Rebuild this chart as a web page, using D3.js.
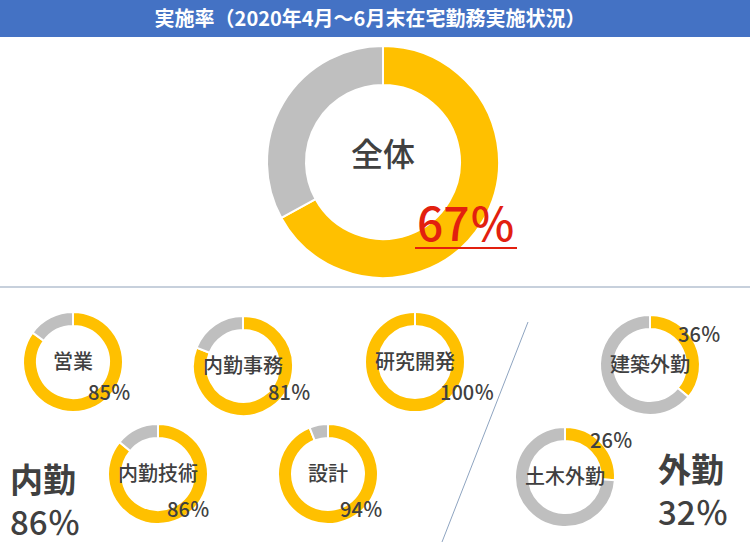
<!DOCTYPE html>
<html>
<head>
<meta charset="utf-8">
<script src="https://cdn.jsdelivr.net/npm/d3@7"></script>
<style>
  body { margin: 0; background: #fff; }
  text { font-family: "Noto Sans CJK JP", "Noto Sans", sans-serif; }
</style>
</head>
<body>
<script>
// values
var titleText = "実施率（2020年4月～6月末在宅勤務実施状況）";
var totalName = "全体";
var totalValue = 67;
var groupNames = ["内勤", "外勤"];
var groupValues = [86, 32];
var deptNames = ["営業", "内勤事務", "研究開発", "内勤技術", "設計", "建築外勤", "土木外勤"];
var deptValues = [85, 81, 100, 86, 94, 36, 26];

// where each small donut sits, and where its % label goes
var deptLayout = [
  {cx: 73,  cy: 362, dx: 15, dy: 38},
  {cx: 243, cy: 366, dx: 25, dy: 34},
  {cx: 415, cy: 362, dx: 25, dy: 38},
  {cx: 158, cy: 474, dx: 9,  dy: 43},
  {cx: 328, cy: 474, dx: 12, dy: 43},
  {cx: 650, cy: 365, dx: 28, dy: -23},
  {cx: 565, cy: 477, dx: 25, dy: -29}
];

var W = 750, H = 550;
var yellow = "#FFC000", grey = "#BFBFBF", ink = "#404040";

var svg = d3.select("body").append("svg")
  .attr("width", W)
  .attr("height", H);

// header bar
svg.append("rect")
  .attr("x", 0).attr("y", 0)
  .attr("width", W).attr("height", 37)
  .attr("fill", "#4472C4");
svg.append("text")
  .attr("x", 370).attr("y", 26)
  .attr("text-anchor", "middle")
  .attr("fill", "#fff")
  .attr("font-size", 20)
  .attr("font-weight", "bold")
  .text(titleText);

var pie = d3.pie().sort(null).value(function(d) { return d; });

function donut(g, value, rIn, rOut) {
  var arc = d3.arc().innerRadius(rIn).outerRadius(rOut);
  g.selectAll("path")
    .data(pie([value, 100 - value]))
    .enter().append("path")
      .attr("d", arc)
      .attr("fill", function(d, i) { return i === 0 ? yellow : grey; })
      .attr("stroke", "#fff")
      .attr("stroke-width", 2);
}

// big donut
var big = svg.append("g").attr("transform", "translate(383,162)");
donut(big, totalValue, 77, 116);
big.append("text")
  .attr("y", -7).attr("dy", "0.35em")
  .attr("text-anchor", "middle")
  .attr("fill", ink)
  .attr("font-size", 32)
  .attr("font-weight", 500)
  .text(totalName);
big.append("text")
  .attr("x", 34).attr("y", 79)
  .attr("fill", "#E2200F")
  .attr("font-size", 46)
  .attr("font-weight", 500)
  .text(totalValue + "％");
big.append("line")
  .attr("x1", 32).attr("x2", 134)
  .attr("y1", 86).attr("y2", 86)
  .attr("stroke", "#E2200F")
  .attr("stroke-width", 2);

// separators
svg.append("line")
  .attr("x1", 0).attr("x2", W)
  .attr("y1", 287).attr("y2", 287)
  .attr("stroke", "#B4C0D0")
  .attr("stroke-width", 1.5);
svg.append("line")
  .attr("x1", 528).attr("y1", 322)
  .attr("x2", 442).attr("y2", 542)
  .attr("stroke", "#8EA4C0")
  .attr("stroke-width", 1);

// small donuts
deptNames.forEach(function(name, i) {
  var L = deptLayout[i];
  var g = svg.append("g").attr("transform", "translate(" + L.cx + "," + L.cy + ")");
  donut(g, deptValues[i], 36, 50);
  g.append("text")
    .attr("dy", "0.35em")
    .attr("text-anchor", "middle")
    .attr("fill", ink)
    .attr("font-size", 20)
    .attr("font-weight", 500)
    .text(name);
  g.append("text")
    .attr("x", L.dx).attr("y", L.dy)
    .attr("fill", ink)
    .attr("font-size", 20)
    .attr("font-weight", 500)
    .text(deptValues[i] + "％");
});

// group totals
var groupPos = [{x: 10, y: 480}, {x: 658, y: 470}];
groupNames.forEach(function(name, i) {
  var p = groupPos[i];
  svg.append("text")
    .attr("x", p.x).attr("y", p.y)
    .attr("dy", "0.35em")
    .attr("fill", ink)
    .attr("font-size", 33)
    .attr("font-weight", "bold")
    .text(name);
  svg.append("text")
    .attr("x", p.x).attr("y", p.y + 55)
    .attr("fill", ink)
    .attr("font-size", 33)
    .attr("font-weight", 500)
    .text(groupValues[i] + "％");
});
</script>
</body>
</html>
